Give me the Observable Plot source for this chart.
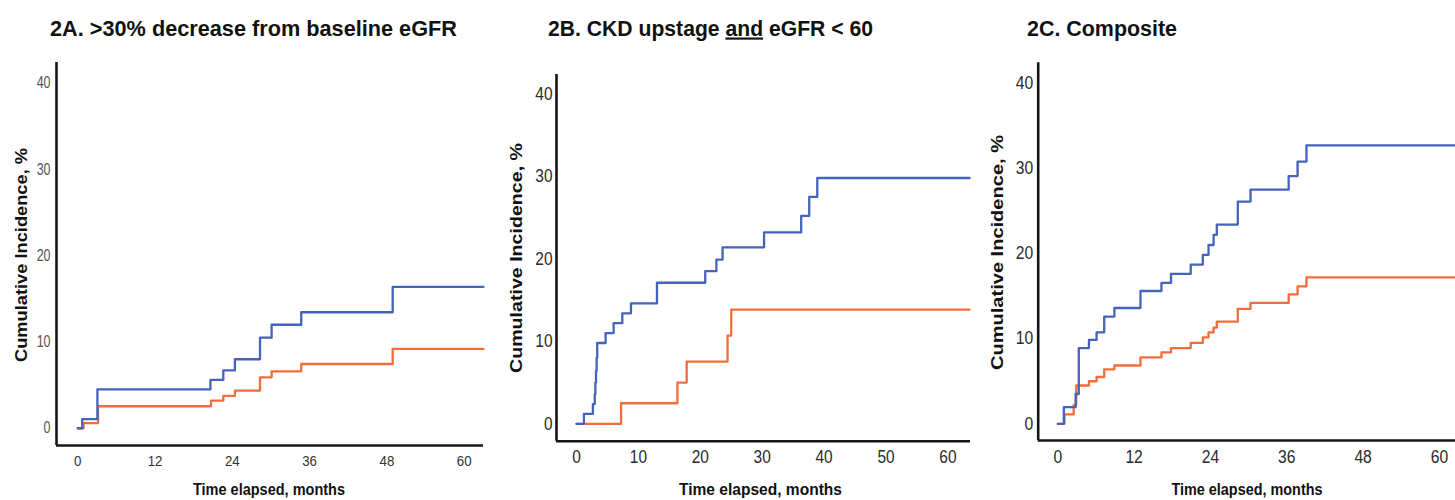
<!DOCTYPE html>
<html>
<head>
<meta charset="utf-8">
<script src="https://cdn.jsdelivr.net/npm/d3@7"></script>
<script src="https://cdn.jsdelivr.net/npm/@observablehq/plot@0.6"></script>
<style>
  html, body { margin: 0; padding: 0; background: #fff; }
  #wrap { position: relative; width: 1455px; height: 500px; overflow: hidden; background: #fff; }
  #wrap > svg { position: absolute; top: 0; }
</style>
</head>
<body>
<div id="wrap"></div>
<script>
// ---------------- data ----------------
const titleA = "2A. >30% decrease from baseline eGFR";
const titleBParts = ["2B. CKD upstage ", "and", " eGFR < 60"];
const titleC = "2C. Composite";
const xLabel = "Time elapsed, months";
const yLabel = "Cumulative Incidence, %";

const yTicks = [0, 10, 20, 30, 40];
const xTicksA = [0, 12, 24, 36, 48, 60];
const xTicksB = [0, 10, 20, 30, 40, 50, 60];
const xTicksC = [0, 12, 24, 36, 48, 60];

// Panel A
const aBlueT   = [0, 0.7, 3.05, 20.6, 22.6, 24.4, 28.3, 30.1, 34.7, 48.9, 63];
const aBlueV   = [0, 1.05, 4.5, 5.6, 6.7, 8.0, 10.5, 12.0, 13.45, 16.4, 16.4];
const aOrangeT = [0, 0.9, 3.15, 20.7, 22.6, 24.4, 28.3, 30.1, 34.7, 48.9, 63];
const aOrangeV = [0, 0.6, 2.55, 3.2, 3.75, 4.35, 5.9, 6.6, 7.45, 9.2, 9.2];

// Panel B
const bBlueT   = [0, 1.2, 2.65, 2.95, 3.05, 3.15, 3.25, 3.35, 4.7, 6.0, 7.4, 8.8, 13.0, 20.8, 22.6, 23.6, 30.3, 36.3, 37.6, 38.9, 63.5];
const bBlueV   = [0, 1.2, 2.4, 3.6, 5.0, 6.4, 8.0, 9.8, 11.0, 12.2, 13.4, 14.6, 17.1, 18.5, 19.9, 21.4, 23.2, 25.2, 27.5, 29.8, 29.8];
const bOrangeT = [0, 7.2, 16.3, 17.8, 24.4, 25.0, 63.5];
const bOrangeV = [0, 2.5, 5.0, 7.55, 10.7, 13.85, 13.85];

// Panel C
const cBlueT   = [0, 0.95, 2.8, 3.3, 4.9, 6.1, 7.3, 8.9, 13.0, 16.3, 17.8, 20.9, 22.8, 23.7, 24.5, 25.0, 28.3, 30.3, 36.3, 37.7, 39.1, 62.5];
const cBlueV   = [0, 1.95, 3.5, 8.9, 9.85, 10.75, 12.6, 13.6, 15.6, 16.55, 17.6, 18.7, 19.85, 21.0, 22.2, 23.4, 26.1, 27.5, 29.1, 30.8, 32.7, 32.7];
const cOrangeT = [0, 1.05, 2.5, 2.9, 4.9, 6.1, 7.3, 8.9, 13.0, 16.3, 17.8, 20.9, 22.8, 23.7, 24.5, 25.0, 28.3, 30.3, 36.3, 37.7, 39.1, 62.5];
const cOrangeV = [0, 1.1, 2.2, 4.5, 5.0, 5.5, 6.4, 6.85, 7.8, 8.4, 8.9, 9.5, 10.15, 10.75, 11.3, 12.0, 13.5, 14.2, 15.2, 16.15, 17.2, 17.2];

// ---------------- styling ----------------
const BLUE = "#4563bb";
const ORANGE = "#f36d3c";
const AXIS = "#161616";
const FONT = "'Liberation Sans', Arial, Helvetica, sans-serif";

const rows = (t, v) => t.map((d, i) => ({t: d, v: v[i]}));

function panel(cfg) {
  const svg = Plot.plot({
    width: cfg.width, height: 500,
    marginLeft: cfg.ml, marginRight: cfg.mr, marginTop: cfg.mt, marginBottom: cfg.mb,
    style: {fontFamily: FONT, background: "transparent", overflow: "visible"},
    x: {domain: cfg.xd},
    y: {domain: cfg.yd},
    marks: [
      Plot.axisX({ticks: cfg.xTicks, tickSize: 0, tickPadding: cfg.xPad, fontSize: cfg.xFont, color: cfg.xColor, label: null}),
      Plot.axisY({ticks: yTicks, tickSize: 0, tickPadding: cfg.yPad, fontSize: cfg.yFont, color: cfg.yColor, label: null}),
      Plot.line(rows(cfg.oT, cfg.oV), {x: "t", y: "v", curve: "step-after", stroke: ORANGE, strokeWidth: 2.3}),
      Plot.line(rows(cfg.bT, cfg.bV), {x: "t", y: "v", curve: "step-after", stroke: BLUE, strokeWidth: 2.3}),
      Plot.ruleX([cfg.xd[0]], {stroke: AXIS, strokeWidth: 2.6}),
      Plot.ruleY([cfg.yd[0]], {stroke: AXIS, strokeWidth: 2.6})
    ]
  });
  svg.style.left = cfg.left + "px";
  // horizontally condensed tick labels, like the source figure
  svg.querySelectorAll('g[aria-label="x-axis tick label"] text').forEach(t => {
    t.setAttribute("transform", (t.getAttribute("transform") || "") + ` scale(${cfg.xScale},1)`);
  });
  svg.querySelectorAll('g[aria-label="y-axis tick label"] text').forEach(t => {
    t.setAttribute("transform", (t.getAttribute("transform") || "") + ` scale(${cfg.yScale},1)`);
  });
  return svg;
}

const wrap = document.getElementById("wrap");

wrap.appendChild(panel({
  left: 0, width: 490, ml: 56, mr: 7, mt: 62, mb: 55,
  xd: [-3.3, 63], yd: [-2, 42.4], xTicks: xTicksA,
  xPad: 11, xFont: 14, xColor: "#333", xScale: 0.95,
  yPad: 6, yFont: 16, yColor: "#555", yScale: 0.78,
  bT: aBlueT, bV: aBlueV, oT: aOrangeT, oV: aOrangeV
}));
wrap.appendChild(panel({
  left: 490, width: 485, ml: 66, mr: 5, mt: 74, mb: 59.3,
  xd: [-3.23, 63.65], yd: [-2.1, 42.34], xTicks: xTicksB,
  xPad: 9, xFont: 18, xColor: "#2a2a2a", xScale: 0.86,
  yPad: 4, yFont: 18, yColor: "#2a2a2a", yScale: 0.86,
  bT: bBlueT, bV: bBlueV, oT: bOrangeT, oV: bOrangeV
}));
wrap.appendChild(panel({
  left: 970, width: 485, ml: 67.7, mr: 0, mt: 62.3, mb: 60,
  xd: [-3.08, 62.53], yd: [-1.96, 42.4], xTicks: xTicksC,
  xPad: 10, xFont: 18, xColor: "#2a2a2a", xScale: 0.87,
  yPad: 5, yFont: 18, yColor: "#2a2a2a", yScale: 0.87,
  bT: cBlueT, bV: cBlueV, oT: cOrangeT, oV: cOrangeV
}));

// ---------------- titles & axis labels overlay ----------------
const ov = d3.select(wrap).append("svg")
  .attr("width", 1455).attr("height", 500)
  .style("left", "0px").style("pointer-events", "none")
  .style("font-family", FONT).style("font-weight", "bold").attr("fill", "#111");

ov.append("text").attr("x", 50).attr("y", 35.5).attr("font-size", 21.5)
  .attr("textLength", 407).attr("lengthAdjust", "spacingAndGlyphs").text(titleA);

const tb = ov.append("text").attr("x", 548).attr("y", 35.5).attr("font-size", 21.5)
  .attr("textLength", 325).attr("lengthAdjust", "spacingAndGlyphs");
tb.append("tspan").text(titleBParts[0]);
tb.append("tspan").attr("text-decoration", "underline").text(titleBParts[1]);
tb.append("tspan").text(titleBParts[2]);

ov.append("text").attr("x", 1027).attr("y", 35.5).attr("font-size", 21.5)
  .attr("textLength", 150).attr("lengthAdjust", "spacingAndGlyphs").text(titleC);

const yLabs = [[26.5, 255, 214], [522, 258, 230], [1002.5, 252.5, 235]];
yLabs.forEach(([x, y, len]) => {
  ov.append("text").attr("transform", `translate(${x},${y}) rotate(-90)`)
    .attr("text-anchor", "middle").attr("font-size", 17)
    .attr("textLength", len).attr("lengthAdjust", "spacingAndGlyphs").text(yLabel);
});

const xLabs = [[269, 495, 152], [760.5, 495, 163], [1247, 495, 151]];
xLabs.forEach(([x, y, len]) => {
  ov.append("text").attr("x", x - len / 2).attr("y", y)
    .attr("font-size", 16.5)
    .attr("textLength", len).attr("lengthAdjust", "spacingAndGlyphs").text(xLabel);
});
</script>
</body>
</html>
